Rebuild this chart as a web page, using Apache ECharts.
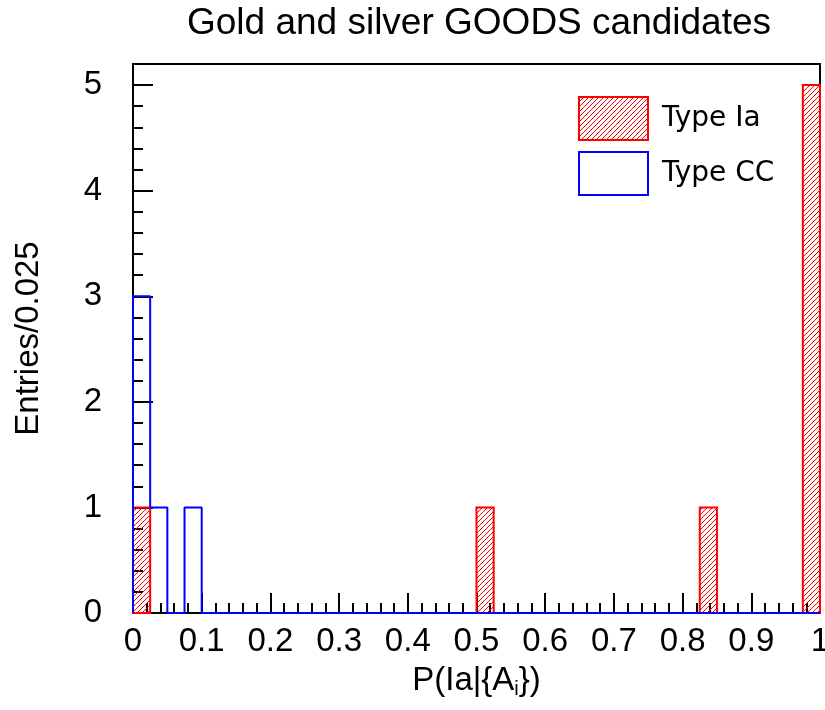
<!DOCTYPE html>
<html>
<head>
<meta charset="utf-8">
<script src="https://cdn.jsdelivr.net/npm/echarts@6/dist/echarts.min.js"></script>
<style>html,body{margin:0;padding:0;background:#fff}#c{width:825px;height:710px}</style>
</head>
<body>
<div id="c"></div>
<script>
// ---- data ----
const binWidth = 0.025;
const binStarts = [0,0.025,0.05,0.075,0.1,0.125,0.15,0.175,0.2,0.225,0.25,0.275,0.3,0.325,0.35,0.375,0.4,0.425,0.45,0.475,0.5,0.525,0.55,0.575,0.6,0.625,0.65,0.675,0.7,0.725,0.75,0.775,0.8,0.825,0.85,0.875,0.9,0.925,0.95,0.975];
const typeIa = [1,0,0,0,0,0,0,0,0,0,0,0,0,0,0,0,0,0,0,0,1,0,0,0,0,0,0,0,0,0,0,0,0,1,0,0,0,0,0,5];
const typeCC = [3,1,0,1,0,0,0,0,0,0,0,0,0,0,0,0,0,0,0,0,0,0,0,0,0,0,0,0,0,0,0,0,0,0,0,0,0,0,0,0];
const xTickLabels = ['0','0.1','0.2','0.3','0.4','0.5','0.6','0.7','0.8','0.9','1'];

const HATCH = 5;
// hatch pattern for legend
function makeHatch(){
  const s = HATCH;
  const cv = document.createElement('canvas');
  cv.width = s; cv.height = s;
  const g = cv.getContext('2d');
  g.strokeStyle = '#ff0000';
  g.lineWidth = 1;
  g.beginPath();
  g.moveTo(0, s); g.lineTo(s, 0);
  g.moveTo(-1, 1); g.lineTo(1, -1);
  g.moveTo(s-1, s+1); g.lineTo(s+1, s-1);
  g.stroke();
  return cv;
}
const hatch = {image: makeHatch(), repeat: 'repeat'};

function stepPoints(vals){
  const pts = [[0,0]];
  vals.forEach((v,i)=>{
    pts.push([binStarts[i], v]);
    pts.push([binStarts[i]+binWidth, v]);
  });
  pts.push([1,0]);
  return pts;
}

const chart = echarts.init(document.getElementById('c'));
const font = 'Liberation Sans, Arial, Helvetica, sans-serif';
chart.setOption({
  animation: false,
  title: {
    text: 'Gold and silver GOODS candidates',
    left: 474, top: 0, textAlign: 'center',
    textStyle: {fontFamily: font, fontSize: 37, fontWeight: 'normal', color: '#000'}
  },
  legend: {
    left: 578, top: 96, orient: 'vertical', padding: 0,
    itemWidth: 69, itemHeight: 43, itemGap: 10,
    textStyle: {fontFamily: 'DejaVu Sans', fontSize: 28, color: '#000', padding: [4,0,0,9]},
    data: [
      {name: 'Type Ia', icon: 'rect', itemStyle: {color: hatch, borderColor: '#ff0000', borderWidth: 2}},
      {name: 'Type CC', icon: 'rect', itemStyle: {color: '#ffffff', borderColor: '#0000ff', borderWidth: 2}}
    ]
  },
  grid: {left: 133, right: 5, top: 64, bottom: 97, outerBoundsMode: 'none', containLabel: false,
    show: true, borderColor: '#000', borderWidth: 2, backgroundColor: 'transparent'},
  xAxis: {
    type: 'value', min: 0, max: 1, interval: 0.1,
    name: 'P(Ia|{A{sub|i}})', nameLocation: 'middle', nameGap: 50,
    nameTextStyle: {fontFamily: font, fontSize: 33, color: '#000',
      rich: {sub: {fontFamily: font, fontSize: 20, verticalAlign: 'bottom', padding: [16,0,0,0]}}},
    axisLine: {lineStyle: {color: '#000', width: 2}},
    axisTick: {inside: true, length: 20, lineStyle: {color: '#000', width: 2}},
    minorTick: {show: true, splitNumber: 5, length: 10, lineStyle: {color: '#000', width: 2}},
    axisLabel: {fontFamily: font, fontSize: 33, color: '#000', margin: 12,
      formatter: (v)=>{ const i = Math.round(v*10); return xTickLabels[i] !== undefined ? xTickLabels[i] : ''; }},
    splitLine: {show: false}
  },
  yAxis: {
    type: 'value', min: 0, max: 5.2, interval: 1,
    name: 'Entries/0.025', nameLocation: 'middle', nameGap: 88, nameRotate: 90,
    nameTextStyle: {fontFamily: font, fontSize: 33, color: '#000'},
    axisLine: {lineStyle: {color: '#000', width: 2}},
    axisTick: {inside: true, length: 20, lineStyle: {color: '#000', width: 2}},
    minorTick: {show: true, splitNumber: 5, length: 10, lineStyle: {color: '#000', width: 2}},
    axisLabel: {fontFamily: font, fontSize: 33, color: '#000', margin: 31,
      formatter: (v)=> (Math.abs(v - Math.round(v)) < 1e-6 ? String(Math.round(v)) : '')},
    splitLine: {show: false}
  },
  series: [
    {
      name: 'Type Ia', type: 'custom',
      data: binStarts.map((b,i)=>[b, b+binWidth, typeIa[i]]),
      renderItem: function(params, api){
        const v = api.value(2);
        if (!v) return null;
        const p0 = api.coord([api.value(0), v]);
        const p1 = api.coord([api.value(1), 0]);
        const x0 = p0[0], y0 = p0[1], x1 = p1[0], y1 = p1[1];
        const children = [];
        // diagonal "/" hatch lines: x + y = c
        const cStart = Math.ceil((x0 + y0) / HATCH) * HATCH;
        for (let c = cStart; c <= x1 + y1; c += HATCH) {
          const xa = Math.max(x0, c - y1), xb = Math.min(x1, c - y0);
          if (xb <= xa) continue;
          children.push({type: 'line', shape: {x1: xa, y1: c - xa, x2: xb, y2: c - xb},
            style: {stroke: '#ff0000', lineWidth: 1}});
        }
        children.push({type: 'rect', shape: {x: x0, y: y0, width: x1 - x0, height: y1 - y0},
          style: {fill: 'none', stroke: '#ff0000', lineWidth: 2}});
        return {type: 'group', children: children};
      },
      itemStyle: {color: '#ff0000'}, z: 3
    },
    {
      name: 'Type CC', type: 'line', data: stepPoints(typeCC),
      symbol: 'none', lineStyle: {color: '#0000ff', width: 2}, itemStyle: {color: '#0000ff'}, z: 4
    }
  ]
});
</script>
</body>
</html>
